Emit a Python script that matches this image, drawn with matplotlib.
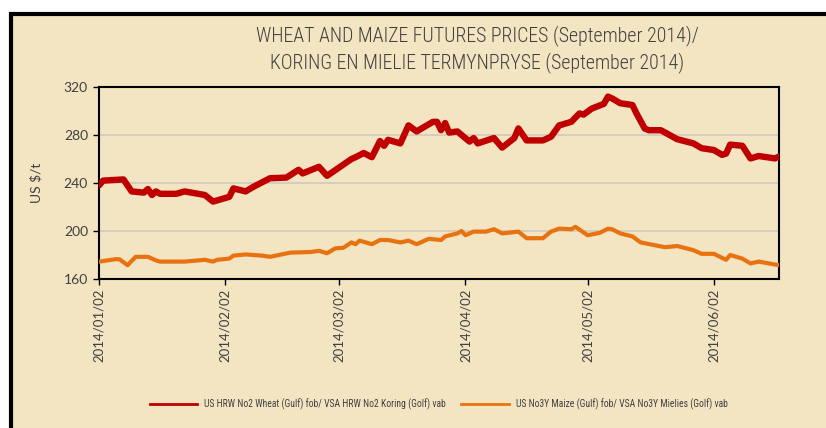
"""Wheat and maize futures prices, Jan-Jun 2014."""

import matplotlib

matplotlib.use("Agg")
import matplotlib.dates as mdates
import pandas as pd
from matplotlib import pyplot as plt
from matplotlib.lines import Line2D
from matplotlib.patches import Rectangle

plt.rcParams["font.family"] = ["Lato", "DejaVu Sans"]
NARROW = ["Roboto Condensed", "DejaVu Sans"]

TEXT = "#404040"
PAPER = "#f3e4c2"

TITLE = ("WHEAT AND MAIZE FUTURES PRICES (September 2014)/\n"
         "KORING EN MIELIE TERMYNPRYSE (September 2014)")
WHEAT_LABEL = "US HRW No2 Wheat (Gulf) fob/ VSA HRW No2 Koring (Golf) vab"
MAIZE_LABEL = "US No3Y Maize (Gulf) fob/ VSA No3Y Mielies (Golf) vab"

wheat_dates = [
    "2014-01-02", "2014-01-03", "2014-01-08", "2014-01-10", "2014-01-13",
    "2014-01-14", "2014-01-15", "2014-01-16", "2014-01-17", "2014-01-21",
    "2014-01-23", "2014-01-28", "2014-01-30", "2014-02-03", "2014-02-04",
    "2014-02-07", "2014-02-09", "2014-02-13", "2014-02-17", "2014-02-20",
    "2014-02-21", "2014-02-25", "2014-02-27", "2014-03-02", "2014-03-05",
    "2014-03-06", "2014-03-08", "2014-03-10", "2014-03-12", "2014-03-13",
    "2014-03-14", "2014-03-17", "2014-03-19", "2014-03-21", "2014-03-25",
    "2014-03-26", "2014-03-27", "2014-03-28", "2014-03-29", "2014-03-31",
    "2014-04-03", "2014-04-04", "2014-04-05", "2014-04-09", "2014-04-11",
    "2014-04-14", "2014-04-15", "2014-04-17", "2014-04-21", "2014-04-23",
    "2014-04-25", "2014-04-28", "2014-04-30", "2014-05-01", "2014-05-03",
    "2014-05-06", "2014-05-07", "2014-05-08", "2014-05-10", "2014-05-13",
    "2014-05-14", "2014-05-16", "2014-05-17", "2014-05-20", "2014-05-24",
    "2014-05-28", "2014-05-30", "2014-06-02", "2014-06-04", "2014-06-05",
    "2014-06-06", "2014-06-09", "2014-06-11", "2014-06-13", "2014-06-17",
    "2014-06-18",
]
wheat_prices = [
    238, 242, 243, 233, 232,
    235, 230, 233, 231, 231,
    233, 230, 224.5, 228.5, 235.5,
    233, 237, 244, 244.5, 251,
    248, 253.5, 246, 253, 260,
    261.5, 265, 261.5, 275, 271,
    276, 273, 288, 283, 291,
    291, 284, 290, 282, 283,
    274.5, 277.5, 273, 277.5, 269.5,
    277.5, 285.5, 275.5, 275.5, 278.5,
    288, 291, 298, 297, 302,
    306, 312, 310.5, 306.5, 305,
    298, 285.5, 284, 284, 276.5,
    273, 269, 267.5, 263.5, 264.5,
    272, 271, 260.5, 262.5, 260.5,
    262,
]

maize_dates = [
    "2014-01-02", "2014-01-06", "2014-01-07", "2014-01-09", "2014-01-11",
    "2014-01-14", "2014-01-16", "2014-01-17", "2014-01-23", "2014-01-28",
    "2014-01-30", "2014-01-31", "2014-02-03", "2014-02-04", "2014-02-07",
    "2014-02-11", "2014-02-13", "2014-02-18", "2014-02-23", "2014-02-25",
    "2014-02-27", "2014-03-01", "2014-03-03", "2014-03-05", "2014-03-06",
    "2014-03-07", "2014-03-10", "2014-03-12", "2014-03-14", "2014-03-17",
    "2014-03-19", "2014-03-21", "2014-03-24", "2014-03-27", "2014-03-28",
    "2014-03-31", "2014-04-01", "2014-04-02", "2014-04-04", "2014-04-07",
    "2014-04-09", "2014-04-11", "2014-04-15", "2014-04-17", "2014-04-21",
    "2014-04-23", "2014-04-25", "2014-04-28", "2014-04-29", "2014-05-02",
    "2014-05-05", "2014-05-07", "2014-05-08", "2014-05-10", "2014-05-13",
    "2014-05-15", "2014-05-21", "2014-05-24", "2014-05-28", "2014-05-30",
    "2014-06-02", "2014-06-05", "2014-06-06", "2014-06-09", "2014-06-11",
    "2014-06-13", "2014-06-18",
]
maize_prices = [
    174.5, 176.5, 176.5, 171.5, 178.5,
    178.5, 175.5, 174.5, 174.5, 176,
    174.5, 176, 177, 179.5, 180.5,
    179.5, 178.5, 182, 182.5, 183.5,
    181.5, 185.5, 186, 190.5, 189,
    192, 189, 192.5, 192.5, 190.5,
    192, 189, 193.5, 192.5, 195.5,
    198, 200, 196.5, 199.5, 199.5,
    201.5, 198, 199.5, 194, 194,
    199.5, 202, 201.5, 203.5, 196.5,
    198.5, 202, 201.5, 198, 195.5,
    190.5, 186.5, 187.5, 184, 181,
    181, 176, 180, 177, 173,
    174.5, 171.5,
]

y_ticks = [160, 200, 240, 280, 320]
x_ticks = ["2014-01-02", "2014-02-02", "2014-03-02", "2014-04-02",
           "2014-05-02", "2014-06-02"]

fig = plt.figure(figsize=(8.26, 4.28), dpi=100, facecolor="white")

# parchment panel, heavy black frame on the top and left (runs off the page)
fig.patches.append(Rectangle((10.5, -30), 850, 444.5, transform=None,
                             facecolor=PAPER, edgecolor="black",
                             linewidth=3, zorder=-10))

ax = fig.add_axes([0.1199, 0.3481, 0.8232, 0.4486])
ax.set_facecolor(PAPER)

ax.plot(pd.to_datetime(wheat_dates), wheat_prices, color="#c00000",
        linewidth=4.6, solid_joinstyle="round", solid_capstyle="round",
        zorder=3)
ax.plot(pd.to_datetime(maize_dates), maize_prices, color="#e8720f",
        linewidth=3, solid_joinstyle="round", solid_capstyle="round",
        zorder=3)

ax.set_ylim(160, 320)
ax.set_yticks(y_ticks)
ax.set_xlim(pd.Timestamp("2014-01-02"), pd.Timestamp("2014-06-18"))
ax.set_xticks(pd.to_datetime(x_ticks))
ax.xaxis.set_major_formatter(mdates.DateFormatter("%Y/%m/%d"))

for v in y_ticks[1:-1]:
    ax.axhline(v, color="#cfcac0", linewidth=1.2, zorder=1)

for side in ax.spines.values():
    side.set_color("black")
    side.set_linewidth(1.5)

ax.tick_params(axis="both", direction="out", length=4, width=1,
               colors="black", labelcolor=TEXT)
ax.tick_params(axis="y", labelsize=10, pad=4)
ax.tick_params(axis="x", labelsize=9.5, labelrotation=90, pad=3)
ax.set_ylabel("US $/t", fontsize=10, color=TEXT, labelpad=15)

fig.text(0.578, 0.885, TITLE, ha="center", va="center", fontsize=14.3,
         color=TEXT, linespacing=1.35, family=NARROW, fontweight="light")

handles = [
    Line2D([], [], color="#c00000", linewidth=2),
    Line2D([], [], color="#e8720f", linewidth=2),
]
fig.legend(handles, [WHEAT_LABEL, MAIZE_LABEL], ncol=2, frameon=False,
           loc="center", bbox_to_anchor=(0.531, 0.056),
           prop={"family": NARROW, "size": 6.9},
           handlelength=5, handletextpad=0.7, columnspacing=1.6,
           labelcolor=TEXT)

fig.savefig("out.png", dpi=100, facecolor="white")
